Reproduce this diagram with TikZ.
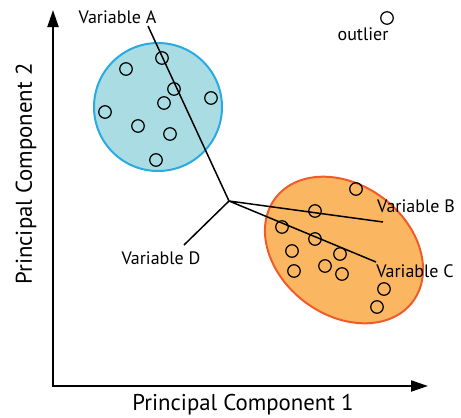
\documentclass[tikz,border=0pt]{standalone}
\usepackage{fontspec}
\setmainfont{PT Sans}
\usetikzlibrary{arrows.meta, positioning}
\definecolor{grpblue}{RGB}{170,220,228}
\definecolor{grpblueline}{RGB}{41,171,226}
\definecolor{grporange}{RGB}{250,182,96}
\definecolor{grporangeline}{RGB}{241,90,41}

\begin{document}
\begin{tikzpicture}[x=1pt, y=-1pt,
    obs/.style={circle, draw, line width=1.2pt, minimum size=12.5pt, inner sep=0pt},
    axis/.style={{Triangle[length=17pt,width=11pt]}-{Triangle[length=17pt,width=11pt]}, line width=2pt},
    load/.style={line width=1.5pt},
    lbl/.style={font=\fontsize{18}{20}\selectfont, inner sep=0pt},
    axlbl/.style={font=\fontsize{22.8}{25}\selectfont, inner sep=0pt}]
    \useasboundingbox (0,0) rectangle (461,418);
    % groups
    \draw[grpblueline, fill=grpblue, line width=2pt] (158,107) circle [radius=64];
    \draw[grporangeline, fill=grporange, line width=2pt, rotate around={-37:(344,250)}]
      (344,250) ellipse [x radius=86, y radius=65];
    % axes
    \coordinate (o) at (53,386);
    \coordinate (xend) at (428,386);
    \coordinate (yend) at (53,10);
    \draw[axis] (yend) -- (o) -- (xend);
    \node[axlbl] (pc1) at (243,405) {Principal Component 1};
    \node[axlbl, rotate=90] (pc2) at (26,174) {Principal Component 2};
    % loadings
    \coordinate (hub) at (229,201);
    \coordinate (a) at (148,26);
    \coordinate (b) at (383,222);
    \coordinate (c) at (376,262);
    \coordinate (d) at (184,245);
    \draw[load] (hub) -- (a) (hub) -- (b) (hub) -- (c) (hub) -- (d);
    \node[lbl] (la) at (117.5,17.5) {Variable A};
    \node[lbl] (lb) at (416,206) {Variable B};
    \node[lbl] (lc) at (415,271) {Variable C};
    \node[lbl] (ld) at (161,258) {Variable D};
    % observations
    \foreach \x/\y in {162/58, 126/69, 174/89, 164/103, 211/98, 105/112, 138/126,
                       170/134, 156/160,
                       356/189, 315/211, 282/227, 315/239, 292/251, 340/254,
                       294/271, 325/266, 342/274, 384/289, 377/307}
      \node[obs] at (\x,\y) {};
    \node[obs] (out) at (387,18) {};
    \node[lbl] (lout) at (363,34) {outlier};
\end{tikzpicture}
\end{document}
